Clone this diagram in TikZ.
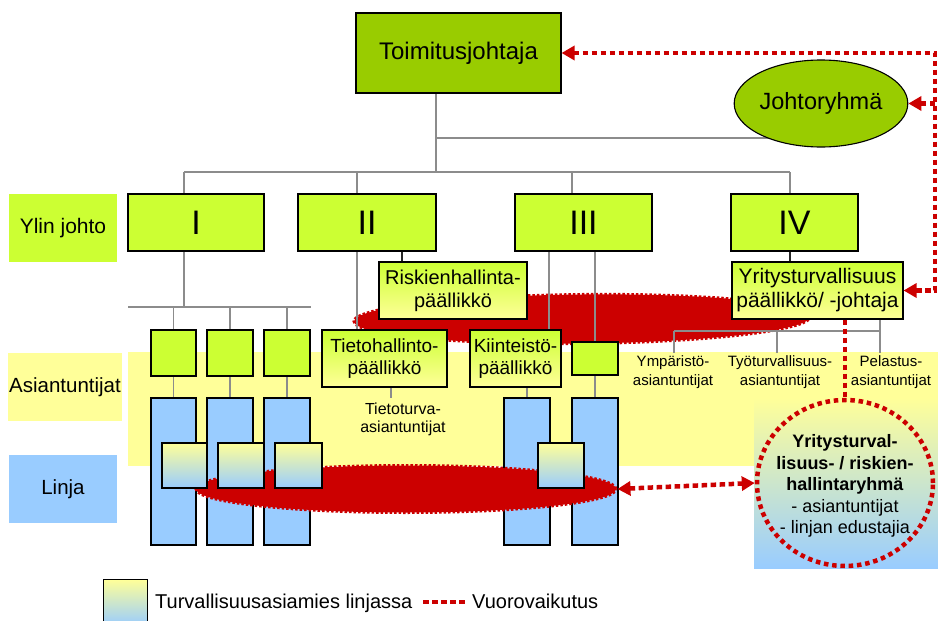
\documentclass[tikz,border=0pt]{standalone}
\usepackage{fontspec}
\setmainfont{Liberation Sans}
\usetikzlibrary{shapes.geometric,arrows.meta}
\definecolor{dkgreen}{HTML}{99CC00}
\definecolor{ltgreen}{HTML}{CCFF33}
\definecolor{lyellow}{HTML}{FFFF99}
\definecolor{lblue}{HTML}{99CCFF}
\definecolor{rred}{HTML}{CC0000}
\definecolor{lgrey}{HTML}{8C8C8C}
\pgfdeclarelayer{bgl}
\pgfdeclarelayer{bluel}
\pgfdeclarelayer{blobl}
\pgfdeclarelayer{front}
\pgfdeclarelayer{topl}
\pgfsetlayers{bgl,bluel,blobl,main,front,topl}
\begin{document}
\begin{tikzpicture}[x=1pt,y=-1pt,
  fs/.style 2 args={font=\fontsize{#1}{#2}\selectfont},
  wh/.style 2 args={minimum width=#1pt, minimum height=#2pt},
  bx/.style={draw=black, line width=1.1pt, inner sep=0pt, align=center, text=black},
  dgbox/.style={bx, fill=dkgreen},
  lgbox/.style={bx, fill=ltgreen},
  bluebox/.style={bx, fill=lblue},
  gybox/.style={bx, top color=ltgreen, bottom color=lyellow},
  tbox/.style={bx, top color=lyellow, bottom color=lblue},
  lbl/.style={inner sep=0pt, align=center, text=black},
  conn/.style={draw=lgrey, line width=1.2pt},
  connk/.style={draw=black!85, line width=1.2pt},
  rdot/.style={draw=rred, line width=4.5pt, dash pattern=on 5.5pt off 3.5pt},
  rtip/.style={-{Triangle[length=13pt,width=14pt]}},
  rtips/.style={{Triangle[length=13pt,width=14pt]}-{Triangle[length=13pt,width=14pt]}},
  blob/.style={ellipse, fill=rred, draw=rred, line width=3pt, dash pattern=on 2.5pt off 2pt, inner sep=0pt}
]
\useasboundingbox (0,0) rectangle (938,621);
\clip (0,0) rectangle (938,621);

% ---------- background ----------
\begin{pgfonlayer}{bgl}
\fill[white] (0,0) rectangle (938,621);
\fill[lyellow] (128,352) rectangle (938,466);
\shade[top color=lyellow, bottom color=lblue] (754,398) rectangle (938,568);
\node[lbl, fill=ltgreen, wh={108}{68}, fs={21}{24}] (ylin) at (63,228) {Ylin johto};
\node[lbl, fill=lyellow, wh={114}{68}, fs={20.5}{24}] (asi) at (65,387) {Asiantuntijat};
\node[lbl, fill=lblue, wh={108}{68}, fs={20.5}{24}] (lin) at (63,489) {Linja};
\end{pgfonlayer}

% ---------- blue line boxes ----------
\begin{pgfonlayer}{bluel}
\node[bluebox, wh={45}{147}] (b1) at (173.5,471.5) {};
\node[bluebox, wh={46}{147}] (b2) at (230,471.5) {};
\node[bluebox, wh={46}{147}] (b3) at (287,471.5) {};
\node[bluebox, wh={46}{147}] (b4) at (527,471.5) {};
\node[bluebox, wh={46}{147}] (b5) at (595,471.5) {};
\end{pgfonlayer}

% ---------- red interaction blobs ----------
\begin{pgfonlayer}{blobl}
\node[blob, wh={456}{49}, rotate=0.6] (blob1) at (582,319) {};
\node[blob, wh={420}{47}] (blob2) at (406,489) {};
\end{pgfonlayer}

% ---------- boxes ----------
\begin{pgfonlayer}{front}
\node[dgbox, wh={205}{80}, fs={24}{28}] (toim) at (458.5,53) {Toimitusjohtaja};
\node[dgbox, ellipse, wh={162}{87}, fs={23.5}{28}] (johto) at (821,103.5) {Johtoryhmä};
\node[lgbox, wh={136}{57}, fs={34}{40}] (I) at (196,222.5) {I};
\node[lgbox, wh={138}{57}, fs={34}{40}] (II) at (367,222.5) {II};
\node[lgbox, wh={137}{57}, fs={34}{40}] (III) at (583.5,222.5) {III};
\node[lgbox, wh={127}{57}, fs={34}{40}] (IV) at (794.5,222.5) {IV};
\node[gybox, wh={148}{57}, fs={20}{23}] (risk) at (453,290.5) {Riskienhallinta-\\päällikkö};
\node[gybox, wh={125}{57}, fs={19}{21.5}] (tieto) at (384.5,358.5) {Tietohallinto-\\päällikkö};
\node[gybox, wh={91}{57}, fs={19}{21.5}] (kiint) at (515.5,358.5) {Kiinteistö-\\päällikkö};
\node[gybox, wh={171}{57}, fs={21}{24}] (yr) at (817.5,290.5) {Yritysturvallisuus\\päällikkö/ -johtaja};
\node[lgbox, wh={45}{46}] (g1) at (173.5,353) {};
\node[lgbox, wh={46}{46}] (g2) at (230,353) {};
\node[lgbox, wh={46}{46}] (g3) at (287,353) {};
\node[lgbox, wh={46}{33}] (g4) at (595,358.5) {};
\node[tbox, wh={45}{45}] (t1) at (184.5,465.5) {};
\node[tbox, wh={46}{45}] (t2) at (241,465.5) {};
\node[tbox, wh={47}{45}] (t3) at (298.5,465.5) {};
\node[tbox, wh={46}{45}] (t4) at (561,465.5) {};
\node[lbl, fs={16}{18}] (tt) at (403,419) {Tietoturva-\\asiantuntijat};
\node[lbl, fs={15}{19}] (ymp) at (673,372.5) {Ympäristö-\\asiantuntijat};
\node[lbl, fs={15}{19}] (tyo) at (780,372.5) {Työturvallisuus-\\asiantuntijat};
\node[lbl, fs={15}{19}] (pel) at (891,372.5) {Pelastus-\\asiantuntijat};
\node[ellipse, draw=rred, line width=4.5pt, dash pattern=on 4.5pt off 3.8pt, inner sep=0pt, wh={176}{166}] (circ) at (845,483) {};
\node[lbl, fs={18}{21.5}] (circtxt) at (845,486) {\textbf{Yritysturval-}\\\textbf{lisuus- / riskien-}\\\textbf{hallintaryhmä}\\- asiantuntijat\\- linjan edustajia};
% legend
\node[tbox, wh={44}{46}, anchor=north west] (leg) at (103,579) {};
\node[lbl, anchor=base west, fs={20}{24}] (legt) at (155,608) {Turvallisuusasiamies linjassa};
\node[lbl, anchor=base west, fs={20}{24}] (legv) at (472,608) {Vuorovaikutus};
\end{pgfonlayer}

% ---------- connectors ----------
\coordinate (trk) at (436,172);
\coordinate (jb) at (436,138);
\coordinate (busL) at (184,172);
\coordinate (busR) at (790,172);
\coordinate (d2) at (357,172);
\coordinate (d3) at (572,172);
\draw[conn] (toim.south -| trk) -- (trk);
\draw[conn] (jb) -- (jb -| johto.center);
\draw[conn] (busL) -- (busR);
\draw[conn] (busL) -- (busL |- I.north);
\draw[conn] (d2) -- (d2 |- II.north);
\draw[conn] (d3) -- (d3 |- III.north);
\draw[conn] (busR) -- (busR |- IV.north);
% unit I
\coordinate (i1) at (184,307);
\coordinate (h1L) at (128,307);
\coordinate (h1R) at (311,307);
\draw[conn] (I.south -| i1) -- (i1);
\draw[conn] (h1L) -- (h1R);
\draw[conn] (g1.north |- h1L) -- (g1.north);
\draw[conn] (g2.north |- h1L) -- (g2.north);
\draw[conn] (g3.north |- h1L) -- (g3.north);
\draw[conn] (g1.south) -- (b1.north);
\draw[conn] (g2.south) -- (b2.north);
\draw[conn] (g3.south) -- (b3.north);
% unit II
\coordinate (x357) at (357,0);
\coordinate (x402) at (402,0);
\coordinate (x391) at (391,398);
\draw[conn] (II.south -| x357) -- (tieto.north -| x357);
\draw[connk] (II.south -| x402) -- (risk.north -| x402);
\draw[conn] (tieto.south -| x391) -- (x391);
% unit III
\coordinate (x549) at (549,0);
\draw[conn] (III.south -| x549) -- (kiint.north -| x549);
\draw[conn] (III.south -| g4) -- (g4.north);
\draw[conn] (kiint.south -| b4) -- (b4.north);
\draw[conn] (g4.south) -- (b5.north);
% unit IV
\draw[connk] (IV.south -| busR) -- (yr.north -| busR);
\coordinate (ya) at (880,331);
\coordinate (yb) at (674,331);
\coordinate (yc) at (777,331);
\draw[conn] (yr.south -| ya) -- (ya) -- (yb);
\draw[conn] (yb) -- ++(0,22);
\draw[conn] (yc) -- ++(0,22);
\draw[conn] (ya) -- ++(0,22);

% ---------- red interaction lines ----------
\begin{pgfonlayer}{topl}
\coordinate (rc1) at (935,53);
\coordinate (rc2) at (935,290.5);
\coordinate (rc3) at (935,103.5);
\draw[rdot, rtips] (toim.east) -- (rc1) -- (rc2) -- (yr.east);
\draw[rdot, rtip] (rc3) -- (johto.east);
\draw[rdot] (yr.south -| circ.north) -- (circ.north);
\draw[rdot, rtips] (blob2.east) -- (circ.west);
\coordinate (ld1) at (423,602);
\coordinate (ld2) at (467,602);
\draw[rdot] (ld1) -- (ld2);
\end{pgfonlayer}
\end{tikzpicture}
\end{document}
